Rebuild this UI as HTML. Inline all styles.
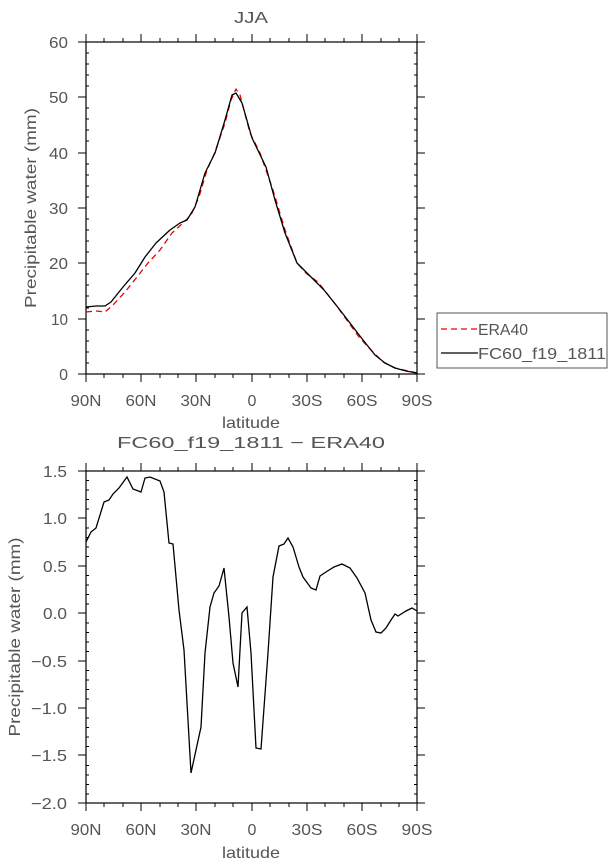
<!DOCTYPE html>
<html><head><meta charset="utf-8"><style>
html,body{margin:0;padding:0;background:#fff;}
svg text{font-family:"Liberation Sans",sans-serif;fill:#555;}
</style></head><body>
<svg width="613" height="862" viewBox="0 0 613 862" xmlns="http://www.w3.org/2000/svg">
<g font-size="16" text-anchor="middle" lengthAdjust="spacingAndGlyphs">
<text x="251" y="23" textLength="34" lengthAdjust="spacingAndGlyphs">JJA</text>
<text x="251" y="428" textLength="58" lengthAdjust="spacingAndGlyphs">latitude</text>
<text x="251" y="448" textLength="268" lengthAdjust="spacingAndGlyphs">FC60_f19_1811 − ERA40</text>
<text x="251" y="858" textLength="58" lengthAdjust="spacingAndGlyphs">latitude</text>
<text transform="translate(36,208) rotate(-90)" textLength="200" lengthAdjust="spacingAndGlyphs">Precipitable water (mm)</text>
<text transform="translate(20,637) rotate(-90)" textLength="199" lengthAdjust="spacingAndGlyphs">Precipitable water (mm)</text>
</g>
<g font-size="16" text-anchor="end">
<text x="68" y="48" textLength="19" lengthAdjust="spacingAndGlyphs">60</text>
<text x="68" y="103" textLength="19" lengthAdjust="spacingAndGlyphs">50</text>
<text x="68" y="159" textLength="19" lengthAdjust="spacingAndGlyphs">40</text>
<text x="68" y="214" textLength="19" lengthAdjust="spacingAndGlyphs">30</text>
<text x="68" y="269" textLength="19" lengthAdjust="spacingAndGlyphs">20</text>
<text x="68" y="325" textLength="17" lengthAdjust="spacingAndGlyphs">10</text>
<text x="68" y="380">0</text>
<text x="67" y="477" textLength="24" lengthAdjust="spacingAndGlyphs">1.5</text>
<text x="67" y="524" textLength="24" lengthAdjust="spacingAndGlyphs">1.0</text>
<text x="67" y="572" textLength="24" lengthAdjust="spacingAndGlyphs">0.5</text>
<text x="67" y="619" textLength="24" lengthAdjust="spacingAndGlyphs">0.0</text>
<text x="67" y="667" textLength="36" lengthAdjust="spacingAndGlyphs">−0.5</text>
<text x="67" y="714" textLength="36" lengthAdjust="spacingAndGlyphs">−1.0</text>
<text x="67" y="761" textLength="36" lengthAdjust="spacingAndGlyphs">−1.5</text>
<text x="67" y="809" textLength="36" lengthAdjust="spacingAndGlyphs">−2.0</text>
</g>
<g font-size="16" text-anchor="middle">
<g id="xl">
<text x="86" y="406" textLength="31" lengthAdjust="spacingAndGlyphs">90N</text>
<text x="141" y="406" textLength="31" lengthAdjust="spacingAndGlyphs">60N</text>
<text x="196" y="406" textLength="31" lengthAdjust="spacingAndGlyphs">30N</text>
<text x="252" y="406">0</text>
<text x="307" y="406" textLength="31" lengthAdjust="spacingAndGlyphs">30S</text>
<text x="362" y="406" textLength="31" lengthAdjust="spacingAndGlyphs">60S</text>
<text x="417" y="406" textLength="31" lengthAdjust="spacingAndGlyphs">90S</text>
</g>
<use href="#xl" transform="translate(0,429)"/>
</g>
<g stroke="#000" stroke-width="1.2" fill="none">
<rect x="86" y="42" width="331" height="332"/>
<rect x="86" y="471" width="331" height="332"/>
</g>
<g stroke="#000" stroke-width="1">
<path id="xt" d="M86,42v-8M141,42v-8M196,42v-8M252,42v-8M307,42v-8M362,42v-8M417,42v-8
M86,374v8M141,374v8M196,374v8M252,374v8M307,374v8M362,374v8M417,374v8
M104,42v-4M123,42v-4M160,42v-4M178,42v-4M215,42v-4M233,42v-4M270,42v-4M289,42v-4M325,42v-4M344,42v-4M381,42v-4M399,42v-4
M104,374v4M123,374v4M160,374v4M178,374v4M215,374v4M233,374v4M270,374v4M289,374v4M325,374v4M344,374v4M381,374v4M399,374v4"/>
<use href="#xt" transform="translate(0,429)"/>
<path d="M78,42h8M78,97h8M78,153h8M78,208h8M78,263h8M78,319h8M78,374h8
M417,42h8M417,97h8M417,153h8M417,208h8M417,263h8M417,319h8M417,374h8
M78,471h8M78,518h8M78,566h8M78,613h8M78,661h8M78,708h8M78,755h8M78,803h8
M417,471h8M417,518h8M417,566h8M417,613h8M417,661h8M417,708h8M417,755h8M417,803h8"/>
<path d="M86,53h3M86,64h3M86,75h3M86,86h3M86,108h3M86,119h3M86,130h3M86,141h3M86,164h3M86,175h3M86,186h3M86,197h3M86,219h3M86,230h3M86,241h3M86,252h3M86,274h3M86,285h3M86,296h3M86,308h3M86,330h3M86,341h3M86,352h3M86,363h3
M414,53h3M414,64h3M414,75h3M414,86h3M414,108h3M414,119h3M414,130h3M414,141h3M414,164h3M414,175h3M414,186h3M414,197h3M414,219h3M414,230h3M414,241h3M414,252h3M414,274h3M414,285h3M414,296h3M414,308h3M414,330h3M414,341h3M414,352h3M414,363h3"/>
<path d="M86,480.5h3M86,490h3M86,499.5h3M86,509h3M86,528h3M86,537.5h3M86,547h3M86,556.5h3M86,575.5h3M86,585h3M86,594.5h3M86,604h3M86,623h3M86,632.5h3M86,642h3M86,651.5h3M86,670.5h3M86,680h3M86,689.5h3M86,699h3M86,718h3M86,727.5h3M86,737h3M86,746.5h3M86,765.5h3M86,775h3M86,784.5h3M86,794h3
M414,480.5h3M414,490h3M414,499.5h3M414,509h3M414,528h3M414,537.5h3M414,547h3M414,556.5h3M414,575.5h3M414,585h3M414,594.5h3M414,604h3M414,623h3M414,632.5h3M414,642h3M414,651.5h3M414,670.5h3M414,680h3M414,689.5h3M414,699h3M414,718h3M414,727.5h3M414,737h3M414,746.5h3M414,765.5h3M414,775h3M414,784.5h3M414,794h3"/>
</g>
<polyline fill="none" stroke="#e00" stroke-width="1.3" stroke-dasharray="6,4" stroke-linejoin="round" points="86,312 96,311 105,312 113,305 125,292 137,277 148,263 160,250 172,233 184,222 191,215 199,197 207,170 215,152 225,123 231,100 236,89 240,95 250,133 260,153 273,190 285,230 297,263 307,274 318,282 336,305 359,337 371,350 383,362 395,368 417,373"/>
<polyline fill="none" stroke="#000" stroke-width="1.3" stroke-linejoin="round" points="86,307 96,306 105,306 111,302 123,287 135,273 145,257 156,243 170,230 180,223 187,220 195,207 205,173 215,153 225,120 232,95 236,93 242,103 252,138 266,167 275,200 285,233 297,263 307,273 316,282 324,290 340,310 363,340 375,355 385,363 395,368 406,371 417,373"/>
<polyline fill="none" stroke="#000" stroke-width="1.3" points="86,542 91,532 96,528 104,502 109,500 113,494 119,488 127,477 133,489 141,492 145,478 150,477 160,481 164,492 169,543 173,544 179,610 184,650 191,773 201,727 205,653 210,607 214,593 219,586 224,568 229,617 233,663 238,687 242,613 247,607 251,653 256,748 261,749 268,653 273,577 279,546 284,544 288,538 293,547 299,567 303,577 311,588 316,590 320,576 326,572 334,567 342,564 350,568 357,578 365,593 371,620 376,632 381,633 386,628 391,620 395,614 398,616 406,611 412,608 417,611"/>
<rect x="437" y="313" width="170" height="55" fill="#fff" stroke="#555" stroke-width="1"/>
<line x1="441" y1="329" x2="478" y2="329" stroke="#e00" stroke-width="1.3" stroke-dasharray="6,4"/>
<line x1="441" y1="353" x2="478" y2="353" stroke="#000" stroke-width="1.3"/>
<text x="478" y="335" font-size="16" textLength="50" lengthAdjust="spacingAndGlyphs">ERA40</text>
<text x="478" y="359" font-size="16" textLength="128" lengthAdjust="spacingAndGlyphs">FC60_f19_1811</text>
</svg>
</body></html>
